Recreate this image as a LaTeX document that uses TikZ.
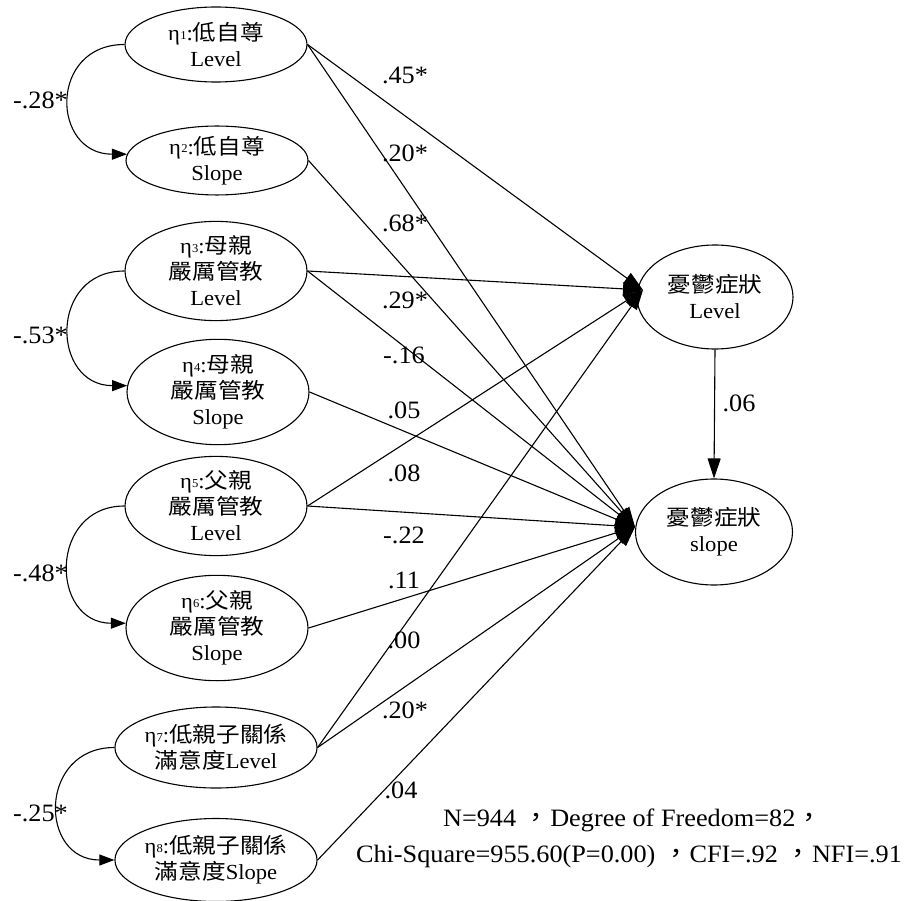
\documentclass[tikz,border=0pt]{standalone}
\usepackage{fontspec}
\setmainfont{Liberation Serif}[FakeStretch=1.05]
\newfontfamily\cjk{Noto Sans CJK TC}[FakeStretch=1.1]
\usetikzlibrary{shapes.geometric,arrows.meta}
\newcommand\zh[1]{{\cjk #1}}
\newcommand\etan[1]{η\kern0.3pt{\fontsize{12}{12}\selectfont\raisebox{0.25ex}{#1}}}
\tikzset{
  latent/.style={draw, ellipse, line width=1.1pt, minimum width=182pt, inner sep=0pt,
    align=center, font=\fontsize{21.5}{26}\selectfont},
  pathline/.style={line width=1.1pt, -{Triangle[length=20pt,width=13pt]}},
  corrarc/.style={line width=1.1pt, -{Triangle[length=15pt,width=11pt]}},
  coef/.style={font=\fontsize{25}{25}\selectfont, inner sep=0pt},
  note/.style={font=\fontsize{25}{25}\selectfont, inner sep=0pt},
}
\begin{document}
\begin{tikzpicture}[x=1pt, y=-1pt]
\useasboundingbox (0,0) rectangle (907,901);

% predictor latent factors
\node[latent, minimum height=75pt] (e1) at (216,44.5) {\etan{1}:\zh{低自尊}\\Level};
\node[latent, minimum height=65pt] (e2) at (217,160.5) {\etan{2}:\zh{低自尊}\\Slope};
\node[latent, minimum height=82pt] (e3) at (216,271) {\etan{3}:\zh{母親}\\\zh{嚴厲管教}\\Level};
\node[latent, minimum height=80pt] (e4) at (218,392) {\etan{4}:\zh{母親}\\\zh{嚴厲管教}\\Slope};
\node[latent, minimum height=88pt] (e5) at (216,506) {\etan{5}:\zh{父親}\\\zh{嚴厲管教}\\Level};
\node[latent, minimum height=85pt] (e6) at (217,628) {\etan{6}:\zh{父親}\\\zh{嚴厲管教}\\Slope};
\node[latent, minimum height=81pt] (e7) at (216,747.5) {\etan{7}:\zh{低親子關係}\\\zh{滿意度}Level};
\node[latent, minimum height=83pt] (e8) at (216,860) {\etan{8}:\zh{低親子關係}\\\zh{滿意度}Slope};

% outcome latent factors
\node[latent, minimum width=156pt, minimum height=104pt] (lvl) at (715,297) {\zh{憂鬱症狀}\\Level};
\node[latent, minimum width=157pt, minimum height=106pt] (slp) at (714,532) {\zh{憂鬱症狀}\\slope};
\coordinate (lvlin) at (643,290);
\coordinate (slpin) at (635,527);

% covariances between level and slope
\draw[corrarc] (e1.west) .. controls +(-76,0) and +(-76,0) .. (e2.176);
\draw[corrarc] (e3.west) .. controls +(-76,0) and +(-76,0) .. (e4.176);
\draw[corrarc] (e5.west) .. controls +(-76,0) and +(-76,0) .. (e6.177);
\draw[corrarc] (e7.west) .. controls +(-76,0) and +(-76,0) .. (e8.west);
\node[coef, anchor=east] at (68,100) {-.28*};
\node[coef, anchor=east] at (68,335) {-.53*};
\node[coef, anchor=east] at (68,573) {-.48*};
\node[coef, anchor=east] at (68,813) {-.25*};

% structural paths
\draw[pathline] (e1.east) -- (lvlin);
\draw[pathline] (e1.east) -- (slpin);
\draw[pathline] (e2.east) -- (slpin);
\draw[pathline] (e3.east) -- (lvlin);
\draw[pathline] (e3.east) -- (slpin);
\draw[pathline] (e4.east) -- (slpin);
\draw[pathline] (e5.east) -- (lvlin);
\draw[pathline] (e5.east) -- (slpin);
\draw[pathline] (e6.east) -- (slpin);
\draw[pathline] (e7.east) -- (lvlin);
\draw[pathline] (e7.east) -- (slpin);
\draw[pathline] (e8.east) -- (slpin);
\draw[pathline] (lvl.south) -- (slp.north);

% path coefficients
\node[coef] at (405,75) {.45*};
\node[coef] at (405,153) {.20*};
\node[coef] at (405,223) {.68*};
\node[coef] at (405,300) {.29*};
\node[coef] at (404,355) {-.16};
\node[coef] at (404,410) {.05};
\node[coef] at (404,473) {.08};
\node[coef] at (404,535) {-.22};
\node[coef] at (404,580) {.11};
\node[coef] at (404,640) {.00};
\node[coef] at (405,710) {.20*};
\node[coef] at (401,790) {.04};
\node[coef] at (739,403) {.06};

% model fit summary
\node[note] (fit1) at (633,820) {N=944 \zh{，}Degree of Freedom=82\zh{，}};
\node[note] (fit2) at (629,856) {Chi-Square=955.60(P=0.00) \zh{，}CFI=.92 \zh{，}NFI=.91};
\end{tikzpicture}
\end{document}
